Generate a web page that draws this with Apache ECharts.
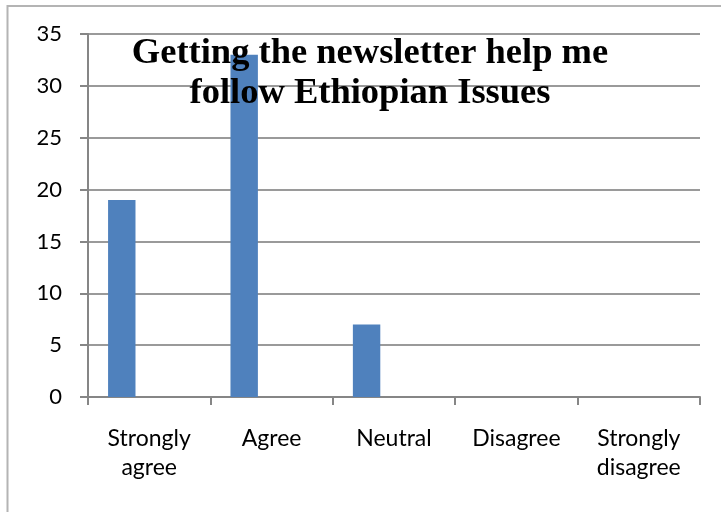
<!DOCTYPE html>
<html>
<head>
<meta charset="utf-8">
<style>
  html, body { margin: 0; padding: 0; background: #ffffff; }
  #chart { width: 721px; height: 512px; }
</style>
<script src="https://cdn.jsdelivr.net/npm/echarts@6/dist/echarts.min.js"></script>
</head>
<body>
<div id="chart"></div>
<script>
// Survey responses: "Getting the newsletter help me follow Ethiopian Issues"
const categories = ['Strongly\nagree', 'Agree', 'Neutral', 'Disagree', 'Strongly\ndisagree'];
const responses = [19, 33, 7, 0, 0];
// The workbook sheet carried two further (empty) series that share each category slot
const series2 = [];
const series3 = [];
const yTicks = { min: 0, max: 35, interval: 5 };

const labelFont = 'Lato, "Open Sans", sans-serif';
const axisGray = '#868686';

const chart = echarts.init(document.getElementById('chart'), null, { renderer: 'canvas' });

chart.setOption({
  backgroundColor: '#ffffff',
  animation: false,
  title: {
    text: 'Getting the newsletter help me\nfollow Ethiopian Issues',
    left: 365,
    top: 29,
    textAlign: 'center',
    textStyle: {
      fontFamily: '"Liberation Serif", "Times New Roman", serif',
      fontWeight: 'bold',
      fontSize: 36.5,
      lineHeight: 40,
      color: '#000000'
    }
  },
  graphic: [{
    type: 'rect',
    shape: { x: 7.5, y: 6, width: 760, height: 560 },
    style: { fill: null, stroke: '#b4b4b4', lineWidth: 2 },
    silent: true,
    z: -1
  }],
  grid: { left: 88, right: 21, top: 34, bottom: 115, containLabel: false },
  xAxis: {
    type: 'category',
    data: categories,
    boundaryGap: true,
    axisLine: { show: true, lineStyle: { color: axisGray, width: 2 } },
    axisTick: { show: true, alignWithLabel: false, interval: 0, length: 8, lineStyle: { color: axisGray, width: 2 } },
    axisLabel: {
      interval: 0,
      margin: 27,
      fontFamily: labelFont,
      fontSize: 23,
      lineHeight: 29,
      color: '#000000'
    },
    splitLine: { show: false }
  },
  yAxis: {
    type: 'value',
    min: yTicks.min,
    max: yTicks.max,
    interval: yTicks.interval,
    axisLine: { show: true, lineStyle: { color: axisGray, width: 2 } },
    axisTick: { show: true, length: 8, lineStyle: { color: axisGray, width: 2 } },
    axisLabel: {
      margin: 26,
      fontFamily: labelFont,
      fontSize: 22,
      color: '#000000'
    },
    splitLine: { show: true, lineStyle: { color: '#9a9a9a', width: 2 } }
  },
  series: [
    {
      name: 'Series1',
      type: 'bar',
      data: responses,
      barGap: '0%',
      barCategoryGap: '32.8%',
      itemStyle: { color: '#4f81bd' },
      z: 3
    },
    { name: 'Series2', type: 'bar', data: series2, barGap: '0%', barCategoryGap: '32.8%', itemStyle: { color: '#c0504d' } },
    { name: 'Series3', type: 'bar', data: series3, barGap: '0%', barCategoryGap: '32.8%', itemStyle: { color: '#9bbb59' } }
  ]
});
</script>
</body>
</html>
